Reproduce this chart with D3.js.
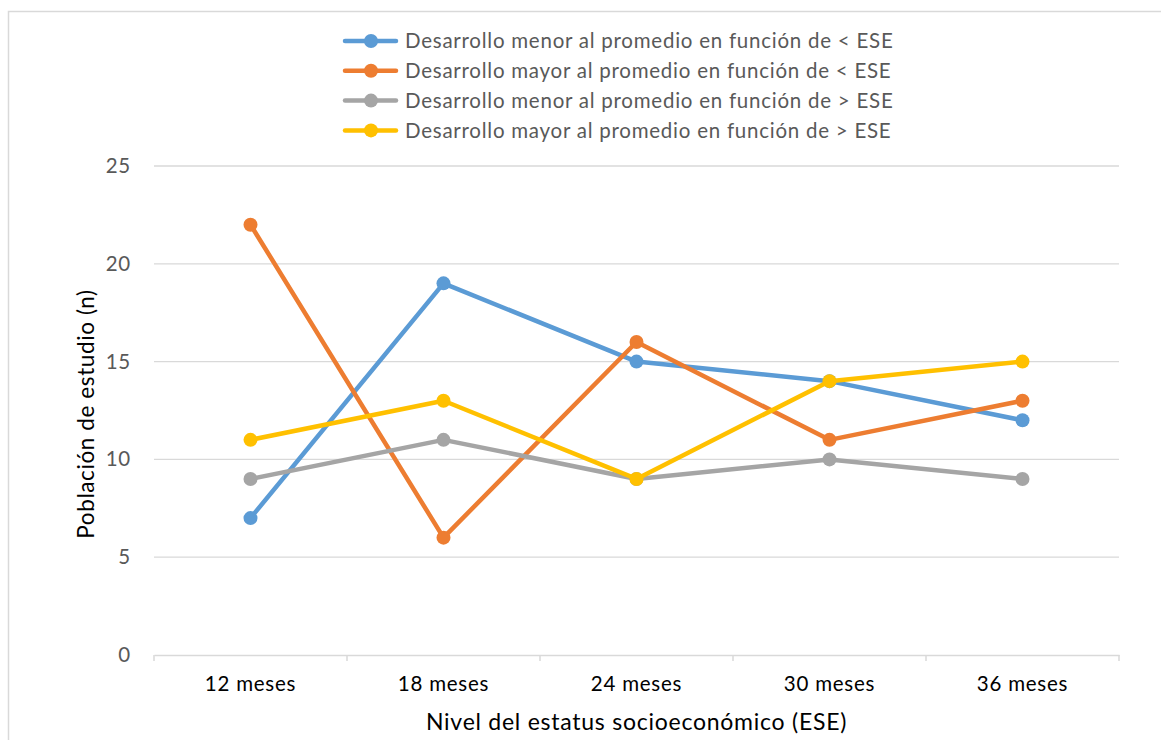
<!DOCTYPE html>
<html><head><meta charset="utf-8">
<script src="https://cdn.jsdelivr.net/npm/d3@7"></script>
<style>body{margin:0;background:#fff}svg{display:block;font-family:Lato,"Open Sans",sans-serif}</style>
</head><body>
<svg id="c" width="1161" height="740"></svg>
<script>
const categories = ["12 meses","18 meses","24 meses","30 meses","36 meses"];
const seriesNames = [
  "Desarrollo menor al promedio en función de < ESE",
  "Desarrollo mayor al promedio en función de < ESE",
  "Desarrollo menor al promedio en función de > ESE",
  "Desarrollo mayor al promedio en función de > ESE"
];
const menorBajo = [7,19,15,14,12];
const mayorBajo = [22,6,16,11,13];
const menorAlto = [9,11,9,10,9];
const mayorAlto = [11,13,9,14,15];
const yTicks = [0,5,10,15,20,25];
const colors = ["#5B9BD5","#ED7D31","#A5A5A5","#FFC000"];
const seriesValues = [menorBajo, mayorBajo, menorAlto, mayorAlto];

const svg = d3.select("#c");
svg.append("rect").attr("x",8.5).attr("y",11.5).attr("width",1170).attr("height",740)
  .attr("fill","none").attr("stroke","#d9d9d9").attr("stroke-width",1.5);

const m = {l:154, r:1119, t:166, b:655};
const x = d3.scaleBand().domain(categories).range([m.l, m.r]);
const y = d3.scaleLinear().domain([0,25]).range([m.b, m.t]);

// gridlines
svg.append("g").selectAll("line").data(yTicks.filter(d=>d>0)).join("line")
  .attr("x1",m.l).attr("x2",m.r).attr("y1",d=>y(d)).attr("y2",d=>y(d))
  .attr("stroke","#d9d9d9").attr("stroke-width",1.3);

// y axis labels
const ya = svg.append("g").attr("transform",`translate(${m.l},0)`)
  .call(d3.axisLeft(y).tickValues(yTicks).tickSize(0).tickPadding(23));
ya.select(".domain").remove();
ya.selectAll("text").attr("font-size",20.5).attr("letter-spacing",0.75).attr("fill","#595959").attr("font-family","Lato");

// x axis
const xa = svg.append("g").attr("transform",`translate(0,${m.b})`)
  .call(d3.axisBottom(x).tickSize(0).tickPadding(21));
xa.select(".domain").attr("stroke","#d9d9d9").attr("stroke-width",1.5);
xa.selectAll("text").attr("font-size",20.5).attr("letter-spacing",0.75).attr("fill","#000").attr("font-family","Lato");
const bounds = d3.range(categories.length+1).map(i => m.l + i*x.bandwidth());
svg.append("g").selectAll("line").data(bounds).join("line")
  .attr("x1",d=>d).attr("x2",d=>d).attr("y1",m.b).attr("y2",m.b+6)
  .attr("stroke","#d9d9d9").attr("stroke-width",1.5);

// series
const line = d3.line().x((d,i)=>x(categories[i])+x.bandwidth()/2).y(d=>y(d));
seriesValues.forEach((vals,s)=>{
  svg.append("path").datum(vals).attr("d",line).attr("fill","none")
    .attr("stroke",colors[s]).attr("stroke-width",4.5).attr("stroke-linejoin","round").attr("stroke-linecap","round");
  svg.append("g").selectAll("circle").data(vals).join("circle")
    .attr("cx",(d,i)=>x(categories[i])+x.bandwidth()/2).attr("cy",d=>y(d)).attr("r",7)
    .attr("fill",colors[s]);
});

// legend
const lg = svg.append("g");
seriesNames.forEach((n,i)=>{
  const yy = 41 + i*29.8;
  lg.append("line").attr("x1",345).attr("x2",396).attr("y1",yy).attr("y2",yy)
    .attr("stroke",colors[i]).attr("stroke-width",4.5).attr("stroke-linecap","round");
  lg.append("circle").attr("cx",371).attr("cy",yy).attr("r",7).attr("fill",colors[i]);
  lg.append("text").attr("x",405).attr("y",yy).attr("dy","0.35em").attr("font-size",20.5)
    .attr("letter-spacing",0.75).attr("fill","#595959").text(n);
});

// titles
svg.append("text").attr("x",(m.l+m.r)/2).attr("y",722).attr("dy","0.35em")
  .attr("text-anchor","middle").attr("font-size",23).attr("letter-spacing",0.75).attr("fill","#000")
  .text("Nivel del estatus socioeconómico (ESE)");
svg.append("text").attr("transform",`translate(86,414) rotate(-90)`).attr("dy","0.35em")
  .attr("text-anchor","middle").attr("font-size",22.5).attr("letter-spacing",0.6).attr("fill","#000")
  .text("Población de estudio (n)");
</script>
</body></html>
